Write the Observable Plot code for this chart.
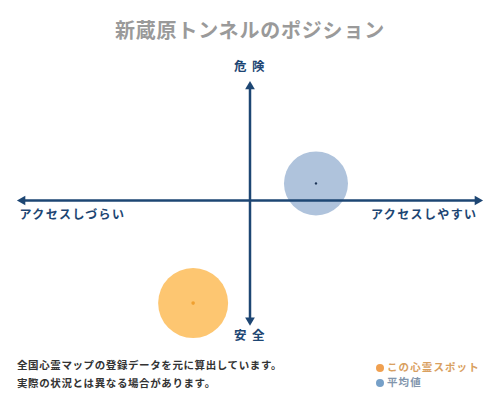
<!DOCTYPE html>
<html><head><meta charset="utf-8">
<script src="https://cdn.jsdelivr.net/npm/d3@7"></script>
<script src="https://cdn.jsdelivr.net/npm/@observablehq/plot@0.6"></script>
<style>
body{margin:0;width:500px;height:400px;background:#fff;font-family:"Noto Sans CJK JP",sans-serif;overflow:hidden}
#title{height:52px;box-sizing:border-box;padding-top:17px;text-align:center;font-size:20px;line-height:26px;font-weight:bold;color:#9a9a9a;letter-spacing:0.8px}
#chart svg{display:block}
#foot{position:relative;height:48px}
.fl{position:absolute;font-size:10.5px;font-weight:bold;color:#333;letter-spacing:0.6px;white-space:nowrap;line-height:14px}
.lg{position:absolute;font-size:10.5px;font-weight:bold;white-space:nowrap;line-height:14px;letter-spacing:1.1px}
.lg span{display:inline-block;width:8px;height:8px;border-radius:50%;margin-right:3px;vertical-align:-0.5px}
</style></head>
<body>
<div id="title"></div>
<div id="chart"></div>
<div id="foot"></div>
<script>
const titleText = "新蔵原トンネルのポジション";
const axisLabels = {top: "危 険", bottom: "安 全", left: "アクセスしづらい", right: "アクセスしやすい"};
const xEnds = [-1, 1];
const yEnds = [-1.05, 1];
const spot = [{name: "この心霊スポット", x: -0.25, y: -0.90}];
const average = [{name: "平均値", x: 0.29, y: 0.15}];
const notes = ["全国心霊マップの登録データを元に算出しています。", "実際の状況とは異なる場合があります。"];
const legendItems = [{label: "この心霊スポット", dot: "#f0a050", text: "#d9a060"}, {label: "平均値", dot: "#76a0c8", text: "#8296ad"}];

document.getElementById("title").textContent = titleText;

const axisColor = "#1d4673";
const labelFont = {fill: axisColor, fontSize: 12.5, fontWeight: "bold"};

const chart = Plot.plot({
  width: 500, height: 300,
  x: {domain: [-1, 1], range: [22, 477], axis: null},
  y: {domain: [-1, 1], range: [262, 34], axis: null},
  style: {fontFamily: "'Noto Sans CJK JP', sans-serif", background: "transparent"},
  marks: [
    Plot.dot(average, {x: "x", y: "y", r: 32, fill: "#afc3dc", stroke: "none"}),
    Plot.dot(spot, {x: "x", y: "y", r: 35, fill: "#fdc671", stroke: "none"}),
    Plot.ruleY([0], {x1: xEnds[0], x2: xEnds[1], stroke: axisColor, strokeWidth: 2.5}),
    Plot.ruleX([0], {y1: yEnds[0], y2: yEnds[1], stroke: axisColor, strokeWidth: 2.5}),
    Plot.dot([xEnds[1]], {x: d => d, y: 0, symbol: "triangle", r: 3.6, fill: axisColor, stroke: "none", rotate: 90}),
    Plot.dot([xEnds[0]], {x: d => d, y: 0, symbol: "triangle", r: 3.6, fill: axisColor, stroke: "none", rotate: 270}),
    Plot.dot([yEnds[1]], {x: 0, y: d => d, symbol: "triangle", r: 3.6, fill: axisColor, stroke: "none", rotate: 0}),
    Plot.dot([yEnds[0]], {x: 0, y: d => d, symbol: "triangle", r: 3.6, fill: axisColor, stroke: "none", rotate: 180}),
    Plot.dot(average, {x: "x", y: "y", r: 1.2, fill: "#1d3557", stroke: "none"}),
    Plot.dot(spot, {x: "x", y: "y", r: 1.8, fill: "#f0a030", stroke: "none"}),
    Plot.text([axisLabels.top], {x: 0, y: yEnds[1], text: d => d, dy: -20, ...labelFont}),
    Plot.text([axisLabels.bottom], {x: 0, y: yEnds[0], text: d => d, dy: 16, ...labelFont}),
    Plot.text([axisLabels.left], {x: xEnds[0], y: 0, text: d => d, dx: -3, dy: 15, textAnchor: "start", ...labelFont, fontSize: 12}),
    Plot.text([axisLabels.right], {x: xEnds[1], y: 0, text: d => d, dx: 0, dy: 15, textAnchor: "end", ...labelFont, fontSize: 12})
  ]
});
document.getElementById("chart").appendChild(chart);
d3.select(chart).selectAll("text").style("letter-spacing", "1.4px");

const foot = d3.select("#foot");
notes.forEach((t, i) => {
  foot.append("div").attr("class", "fl").style("left", "17px").style("top", (6 + i * 18) + "px").text(t);
});
legendItems.forEach((d, i) => {
  const row = foot.append("div").attr("class", "lg").style("left", "376px").style("top", (8 + i * 15) + "px").style("color", d.text);
  row.append("span").style("background", d.dot);
  row.append("text").text(d.label);
});
</script>
</body></html>
